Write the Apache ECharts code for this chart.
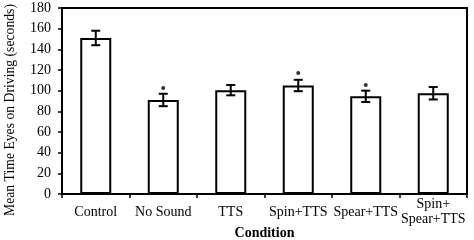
<!DOCTYPE html>
<html>
<head>
<meta charset="utf-8">
<title>Mean Time Eyes on Driving</title>
<script src="https://cdn.jsdelivr.net/npm/echarts@6/dist/echarts.min.js"></script>
<style>
  html, body { margin: 0; padding: 0; background: #fff; }
  #main { width: 474px; height: 240px; }
</style>
</head>
<body>
<div id="main"></div>
<script>
// data
var conditions = ['Control', 'No Sound', 'TTS', 'Spin+TTS', 'Spear+TTS', 'Spin+\nSpear+TTS'];
var means = [151, 91, 100.5, 105, 94.5, 97.5];
var errors = [7, 6, 5, 5.5, 5.5, 6];
// significance dots (null = none)
var dots = [null, 102.5, null, 117, 105.5, null];
var yTicks = [0, 20, 40, 60, 80, 100, 120, 140, 160, 180];

var font = 'Liberation Serif, Times New Roman, serif';

var errData = [];
for (var i = 0; i < means.length; i++) {
  errData.push([i, means[i] - errors[i], means[i] + errors[i]]);
}
var dotData = [];
for (var i = 0; i < dots.length; i++) {
  if (dots[i] != null) dotData.push([i, dots[i]]);
}

var chart = echarts.init(document.getElementById('main'));
chart.setOption({
  animation: false,
  grid: { left: 62, right: 7, top: 8, bottom: 46, show: true, borderColor: '#000', borderWidth: 2,
    containLabel: false, outerBoundsMode: 'none' },
  xAxis: {
    type: 'category',
    data: conditions,
    axisLine: { lineStyle: { color: '#000', width: 2 } },
    axisTick: { show: true, length: 4, lineStyle: { color: '#000', width: 1.5 } },
    axisLabel: { color: '#000', fontFamily: font, fontSize: 14, margin: 18, lineHeight: 15,
      verticalAlign: 'middle', interval: 0 },
    name: 'Condition',
    nameLocation: 'middle',
    nameGap: 32,
    nameMoveOverlap: false,
    nameTextStyle: { color: '#000', fontFamily: font, fontSize: 14, fontWeight: 'bold' }
  },
  yAxis: {
    type: 'value',
    min: 0, max: 180, interval: 20,
    splitLine: { show: false },
    axisLine: { show: true, lineStyle: { color: '#000', width: 2 } },
    axisTick: { show: true, length: 4, lineStyle: { color: '#000', width: 1.5 } },
    axisLabel: { color: '#000', fontFamily: font, fontSize: 14, margin: 11,
      formatter: function (v) { return yTicks.indexOf(v) >= 0 ? String(v) : ''; } },
    name: 'Mean Time Eyes on Driving (seconds)',
    nameLocation: 'middle',
    nameGap: 45,
    nameMoveOverlap: false,
    nameTextStyle: { color: '#000', fontFamily: font, fontSize: 13.7, padding: [0, 18, 0, 0] }
  },
  series: [
    {
      type: 'bar',
      data: means,
      barWidth: 31,
      itemStyle: { color: '#fff', borderColor: '#000', borderWidth: 2 }
    },
    {
      type: 'custom',
      data: errData,
      z: 5,
      renderItem: function (params, api) {
        var x = api.value(0);
        var lo = api.coord([x, api.value(1)]);
        var hi = api.coord([x, api.value(2)]);
        var w = 4.5;
        var st = { stroke: '#000', lineWidth: 2 };
        return {
          type: 'group',
          children: [
            { type: 'line', shape: { x1: lo[0], y1: lo[1], x2: hi[0], y2: hi[1] }, style: st },
            { type: 'line', shape: { x1: lo[0] - w, y1: lo[1], x2: lo[0] + w, y2: lo[1] }, style: st },
            { type: 'line', shape: { x1: hi[0] - w, y1: hi[1], x2: hi[0] + w, y2: hi[1] }, style: st }
          ]
        };
      }
    },
    {
      type: 'scatter',
      data: dotData,
      symbolSize: 4,
      itemStyle: { color: '#000' },
      z: 6
    }
  ]
});
</script>
</body>
</html>
